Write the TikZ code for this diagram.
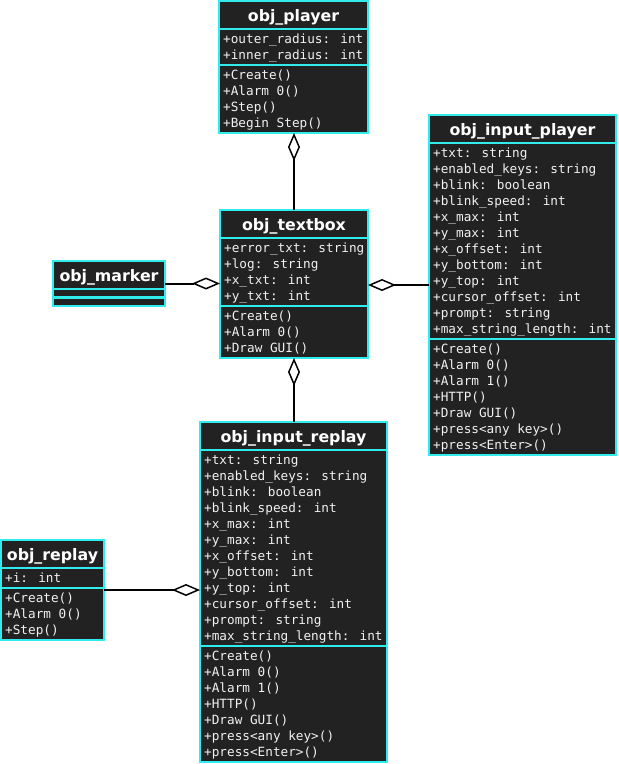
\documentclass[tikz,border=0pt]{standalone}
\usepackage{fontspec}
\usetikzlibrary{arrows.meta}
\newfontfamily\membfont{DejaVu Sans Mono}
\newfontfamily\headfont{DejaVu Sans}
\definecolor{clsfill}{RGB}{34,34,34}
\definecolor{clsedge}{RGB}{48,236,236}
\definecolor{clstext}{RGB}{242,242,242}

\tikzset{
  clsbox/.style={draw=clsedge, line width=2.4pt, fill=clsfill, inner sep=0pt, outer sep=0pt},
  clstitle/.style={text=white, font=\headfont\bfseries\fontsize{15.8}{19}\selectfont, inner sep=0pt},
  members/.style={text=clstext, font=\membfont\fontsize{12.7}{16}\selectfont, align=left, inner sep=0pt, anchor=north west},
  divider/.style={draw=clsedge, line width=2.4pt},
  agg/.style={draw=black, line width=2pt, -{Diamond[length=28pt,width=12pt,fill=white,line width=1.5pt]}},
}

% UML class: name, x, y, width, #attributes, #operations, title, attributes, operations
\newcommand\umlclass[9]{%
  \pgfmathsetmacro\secA{ifthenelse(#5==0,8.5,16*#5+4)}%
  \pgfmathsetmacro\secB{ifthenelse(#6==0,8.5,16*#6+4)}%
  \pgfmathsetmacro\clsH{28+\secA+\secB}%
  \pgfmathsetmacro\yA{#3+28}%
  \pgfmathsetmacro\yB{#3+28+\secA}%
  \pgfmathsetmacro\xM{#2+#4/2}%
  \node[clsbox, minimum width=#4pt, minimum height=\clsH pt, anchor=north west] (#1) at (#2,#3) {};
  \node[clstitle, anchor=base] (#1-title) at (\xM,#3+20) {#7};
  \draw[divider] (#2,\yA) -- ++(#4,0);
  \draw[divider] (#2,\yB) -- ++(#4,0);
  \node[members] (#1-attrs) at (#2+4,\yA+3.3) {\strut#8};
  \node[members] (#1-ops) at (#2+4,\yB+3.3) {\strut#9};
}

\begin{document}
\begin{tikzpicture}[x=1pt,y=-1pt]
  \fill[white] (0,0) rectangle (619,764);
  \useasboundingbox (0,0) rectangle (619,764);

  \umlclass{player}{219}{1}{149}{2}{4}{obj\_player}
    {+outer\_radius: int\\+inner\_radius: int}
    {+Create()\\+Alarm 0()\\+Step()\\+Begin Step()}

  \umlclass{textbox}{220}{210}{148}{4}{3}{obj\_textbox}
    {+error\_txt: string\\+log: string\\+x\_txt: int\\+y\_txt: int}
    {+Create()\\+Alarm 0()\\+Draw GUI()}

  \umlclass{marker}{53}{261}{112}{0}{0}{obj\_marker}{}{}

  \umlclass{inplayer}{429}{115}{187}{12}{7}{obj\_input\_player}
    {+txt: string\\+enabled\_keys: string\\+blink: boolean\\+blink\_speed: int\\+x\_max: int\\+y\_max: int\\+x\_offset: int\\+y\_bottom: int\\+y\_top: int\\+cursor\_offset: int\\+prompt: string\\+max\_string\_length: int}
    {+Create()\\+Alarm 0()\\+Alarm 1()\\+HTTP()\\+Draw GUI()\\+press<any key>()\\+press<Enter>()}

  \umlclass{inreplay}{200}{422}{187}{12}{7}{obj\_input\_replay}
    {+txt: string\\+enabled\_keys: string\\+blink: boolean\\+blink\_speed: int\\+x\_max: int\\+y\_max: int\\+x\_offset: int\\+y\_bottom: int\\+y\_top: int\\+cursor\_offset: int\\+prompt: string\\+max\_string\_length: int}
    {+Create()\\+Alarm 0()\\+Alarm 1()\\+HTTP()\\+Draw GUI()\\+press<any key>()\\+press<Enter>()}

  \umlclass{replay}{1}{540}{103}{1}{3}{obj\_replay}
    {+i: int}
    {+Create()\\+Alarm 0()\\+Step()}

  % aggregations (diamond on the aggregating class)
  \draw[agg] (textbox.north) -- (textbox.north |- player.south);
  \draw[agg] (textbox.south |- inreplay.north) -- (textbox.south);
  \draw[agg] (marker.east) -- (marker.east -| textbox.west);
  \draw[agg] (inplayer.west) -- (inplayer.west -| textbox.east);
  \draw[agg] (replay.east) -- (replay.east -| inreplay.west);
\end{tikzpicture}
\end{document}
